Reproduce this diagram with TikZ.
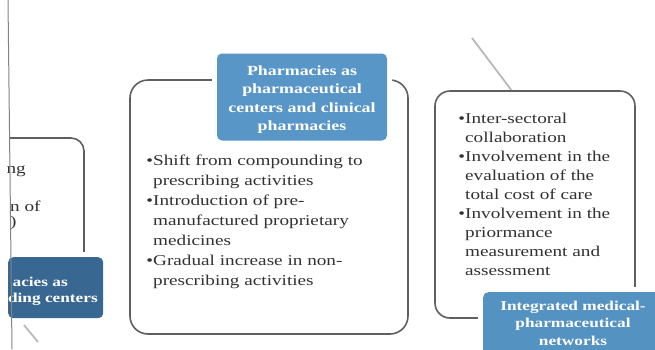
\documentclass[tikz,border=0pt]{standalone}
\usepackage{fontspec}
\setmainfont{Liberation Serif}
\newfontfamily\wideserif[FakeStretch=1.28]{Liberation Serif}
\definecolor{outlinegray}{RGB}{95,95,95}
\definecolor{bodytext}{RGB}{50,50,50}
\definecolor{bluemid}{RGB}{88,150,200}
\definecolor{blueright}{RGB}{84,146,194}
\definecolor{blueleft}{RGB}{56,104,146}
\definecolor{faint}{RGB}{185,185,185}
\definecolor{edgegray}{RGB}{130,130,130}
\begin{document}
\begin{tikzpicture}[x=1pt,y=-1pt,
  outline/.style={draw=outlinegray, line width=1.6pt},
  bluelabel/.style={rounded corners=5pt, inner sep=0pt,
    preaction={draw=white, line width=10pt}},
  labelfont/.style 2 args={text=white, inner sep=0pt, align=center,
    font=\wideserif\bfseries\fontsize{#1}{#2}\selectfont},
  bullettext/.style={anchor=north west, align=left, inner sep=0pt, text=bodytext,
    font=\wideserif\fontsize{15}{#1}\selectfont},
  fainttrace/.style={draw=faint, line width=1.8pt}]
\useasboundingbox (0,0) rectangle (655,349);
\clip (0,0) rectangle (655,349);

% page edge line
\coordinate (edgetop) at (8,0);
\coordinate (edgebot) at (12,349);

% faint traces of connectors
\coordinate (trA) at (472,38);
\coordinate (trB) at (512,91);
\coordinate (trC) at (24,325);
\coordinate (trD) at (38,342);
\draw[fainttrace] (trA) -- (trB);
\draw[fainttrace] (trC) -- (trD);

% left (cut-off) box
\draw[outline, rounded corners=13pt] (10,138) -- (84,138) -- (84,254);
\node[bullettext=19, anchor=base east] (lefta) at (26,173) {ng};
\node[bullettext=19, anchor=base west] (leftb) at (10,211) {n of};
\node[bullettext=19, anchor=base west] (leftc) at (10,226) {)};
\node[bluelabel, fill=blueleft, anchor=north west, minimum width=95pt, minimum height=61pt] (leftlabel) at (8,257) {};
\node[labelfont={13.5}{17}, anchor=base east] (leftlabela) at (68,286) {acies as};
\node[labelfont={13.5}{17}, anchor=base east] (leftlabelb) at (98,302) {ding centers};

% middle box
\draw[outline, rounded corners=18pt] (130,80) rectangle (408,334);
\node[bluelabel, fill=bluemid, minimum width=170pt, minimum height=87pt] (midlabel) at (302,97) {};
\node[labelfont={14}{18.3}] (midlabeltext) at (302,99.5) {Pharmacies as\\pharmaceutical\\centers and clinical\\pharmacies};
\node[bullettext=20] (midlist) at (153,155.2) {\llap{\textbullet}Shift from compounding to\\prescribing activities\\\llap{\textbullet}Introduction of pre-\\manufactured proprietary\\medicines\\\llap{\textbullet}Gradual increase in non-\\prescribing activities};

% right box
\draw[outline, rounded corners=15pt] (435,91) rectangle (635,318);
\node[bullettext=19] (rightlist) at (465,113.2) {\llap{\textbullet}Inter-sectoral\\collaboration\\\llap{\textbullet}Involvement in the\\evaluation of the\\total cost of care\\\llap{\textbullet}Involvement in the\\priormance\\measurement and\\assessment};
\node[bluelabel, fill=blueright, anchor=north west, minimum width=182pt, minimum height=64pt] (rightlabel) at (483,292) {};
\node[labelfont={13.5}{17.5}] (rightlabeltext) at (573,323) {Integrated medical-\\pharmaceutical\\networks};

\draw[draw=edgegray, line width=1pt] (edgetop) -- (edgebot);
\end{tikzpicture}
\end{document}
